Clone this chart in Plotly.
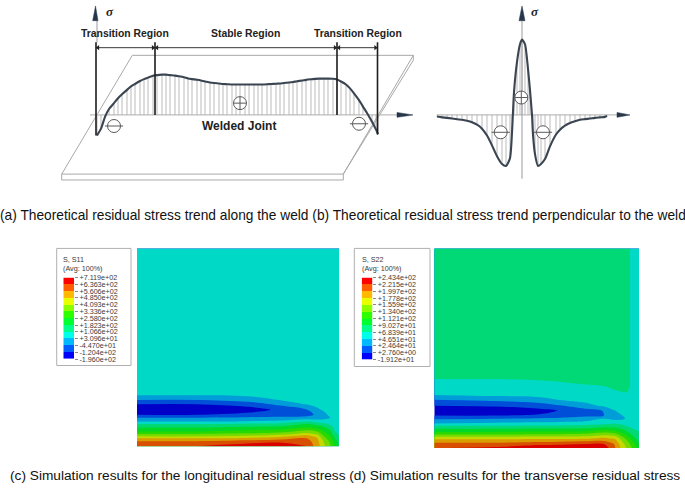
import numpy as np
import plotly.graph_objects as go

W, H = 685, 488
BASE_Y = 113  # pixel row of the zero-stress line in the sketches

# ---- sketch (a): stress along the weld
weld_x = [97, 101, 105, 109, 114, 118, 122, 127, 131, 135, 140, 144, 148, 153, 157, 162, 166, 170, 175, 179,
          184, 188, 192, 197, 201, 205, 210, 214, 219, 223, 227, 232, 236, 240, 245, 249, 254, 258, 262, 267,
          271, 276, 280, 284, 289, 293, 297, 302, 306, 311, 315, 319, 324, 328, 333, 337, 341, 346, 350, 354,
          359, 363, 367, 372, 376, 378]
weld_stress = [-21, -14, -2, 6, 12, 17, 21, 25.5, 29, 31.5, 34.5, 36.5, 38, 39.8, 40.5, 41, 41, 40.5, 40, 39.3,
               38.3, 37.2, 36.5, 35.8, 35, 34, 33, 32.5, 32, 31.5, 31.3, 31, 31, 31, 31, 31, 31, 31, 31, 31.2,
               31.5, 31.8, 32, 32.5, 33, 33.5, 34.3, 35, 35.7, 36.3, 36.7, 37, 37, 37, 36.8, 36, 34, 31, 27, 22,
               15, 8.5, 2, -7, -15, -19.5]

# ---- sketch (b): stress across the weld
cross_x = [437, 442, 447, 452, 457, 462, 467, 472, 477, 482, 487, 492, 497, 502, 506, 510, 512, 514, 517, 520,
           522, 525, 528, 530, 532, 533, 535, 538, 541, 545, 550, 556, 560, 565, 570, 575, 580, 585, 590, 595,
           600, 605, 607]
cross_stress = [-1.7, -2.5, -3, -3.7, -4.5, -5, -6, -7.5, -10, -14, -21, -31, -42, -50, -52, -44, -18, 23, 54, 72,
                76.7, 72, 47, 25, 0, -20, -40, -52, -50, -45, -32, -20, -15, -11, -8.3, -6.5, -5, -4.3, -3.7, -3,
                -2.5, -2, -1]

plate_top_x = [132.3, 413.3, 343.3, 61.7, 132.3]
plate_top_s = [60.7, 60.7, -60.3, -60.3, 60.7]
plate_edge_x = [61.7, 61.7, 343.3, 343.3, 413.3, 413.3]
plate_edge_s = [-60.3, -66.3, -66.3, -60.3, 55.7, 60.7]

black_x = [96, 155, 337, 377.5]
black_lo = [-21, 0, 0, -20]
BLACK_TOP = 74

section_edges = [96, 155, 337, 377.5]
section_names = ["Transition Region", "Stable Region", "Transition Region"]
section_centers = [125, 245, 358]

plus_x = [240, 521.3]
plus_s = [12, 17.7]
minus_x = [114, 359, 500.7, 543]
minus_s = [-11.3, -9, -17.7, -17.7]

# ---- legends
s11_levels = [-196.0, -120.4, -44.7, 30.96, 106.6, 182.3, 258.0, 333.6, 409.3, 485.0, 560.6, 636.3, 711.9]
s11_labels = ["-1.960e+02", "-1.204e+02", "-4.470e+01", "+3.096e+01", "+1.066e+02", "+1.823e+02", "+2.580e+02",
              "+3.336e+02", "+4.093e+02", "+4.850e+02", "+5.606e+02", "+6.363e+02", "+7.119e+02"]
s22_levels = [-19.12, 2.76, 24.64, 46.51, 68.39, 90.27, 112.1, 134.0, 155.9, 177.8, 199.7, 221.5, 243.4]
s22_labels = ["-1.912e+01", "+2.760e+00", "+2.464e+01", "+4.651e+01", "+6.839e+01", "+9.027e+01", "+1.121e+02",
              "+1.340e+02", "+1.559e+02", "+1.778e+02", "+1.997e+02", "+2.215e+02", "+2.434e+02"]

legend_colors = ["#0000ff", "#005dff", "#00b9ff", "#00ffe8", "#00ff8b", "#00ff2e",
                 "#2eff00", "#8bff00", "#e8ff00", "#ffb900", "#ff5d00", "#ff0000"]
field_colors = ["#0000c8", "#004fd9", "#009dd9", "#00d9c5", "#00d976", "#00d927",
                "#27d900", "#76d900", "#c5d900", "#d99d00", "#d94f00", "#d90000"]

# ---- S11 field, read as position on the 0-12 legend scale, one list per column
s11_x = [0, 60, 110, 143, 170, 180, 187, 193, 198, 202]
s11_y = [0, 145, 149, 154, 158, 164, 169, 172, 176, 178.5, 182, 186, 188.5, 191, 193, 196, 201]
s11_cols = [
    [3.5, 3.5, 3.05, 2.0, 1.05, 0.4, 1.0, 2.0, 3.0, 4.0, 5.0, 6.0, 7.0, 8.0, 9.0, 10.0, 10.9],
    [3.5, 3.5, 3.05, 2.0, 1.05, 0.4, 1.0, 2.0, 3.0, 4.0, 5.0, 6.0, 7.0, 8.0, 9.0, 10.0, 11.0],
    [3.5, 3.5, 3.2, 2.4, 1.5, 0.5, 1.35, 2.1, 3.1, 4.15, 5.25, 6.35, 7.2, 8.25, 9.2, 10.35, 11.8],
    [3.5, 3.5, 3.4, 3.05, 2.3, 1.2, 1.6, 2.2, 3.3, 4.4, 5.3, 6.6, 7.6, 8.75, 9.6, 10.7, 11.8],
    [3.5, 3.5, 3.5, 3.4, 3.15, 1.95, 1.6, 2.4, 4.0, 5.05, 6.0, 7.4, 8.4, 9.4, 10.05, 10.4, 11.0],
    [3.5, 3.5, 3.5, 3.5, 3.4, 2.75, 2.2, 2.4, 3.6, 4.7, 5.6, 7.0, 7.85, 8.7, 9.1, 9.4, 9.5],
    [3.5, 3.5, 3.5, 3.5, 3.5, 3.2, 2.6, 2.7, 3.5, 4.2, 5.2, 6.0, 6.5, 7.0, 7.35, 7.85, 8.2],
    [3.5, 3.5, 3.5, 3.5, 3.5, 3.5, 3.3, 3.0, 3.3, 3.8, 4.5, 5.3, 5.7, 6.1, 6.4, 6.8, 7.2],
    [3.5, 3.5, 3.5, 3.5, 3.5, 3.5, 3.5, 3.5, 3.5, 3.6, 3.8, 4.0, 4.3, 4.7, 5.0, 5.5, 6.0],
    [3.5, 3.5, 3.5, 3.5, 3.5, 3.5, 3.5, 3.5, 3.5, 3.55, 3.6, 3.7, 3.9, 4.1, 4.3, 4.6, 5.0],
]

# ---- S22 field, same reading
s22_x = [0, 60, 105, 126, 150, 169, 180, 188, 192, 198, 204]
s22_y = [0, 130, 135, 140, 146, 149, 154, 160, 165, 170, 173, 178, 181, 186, 190, 193, 196, 199, 203]
s22_cols = [
    [4.5, 4.2, 3.85, 3.6, 3.2, 3.03, 2.0, 1.0, 0.4, 1.0, 1.8, 3.0, 4.2, 5.75, 7.25, 8.6, 9.6, 10.3, 10.95],
    [4.5, 4.2, 3.85, 3.6, 3.5, 3.25, 2.25, 1.1, 0.5, 1.0, 1.9, 3.2, 4.2, 5.75, 7.25, 8.6, 9.6, 10.3, 11.2],
    [4.5, 4.3, 3.95, 3.7, 3.5, 3.3, 2.65, 1.45, 0.7, 1.1, 2.1, 3.25, 4.3, 5.9, 7.4, 8.7, 9.7, 10.7, 11.8],
    [4.5, 4.4, 4.05, 3.75, 3.55, 3.4, 3.05, 1.95, 1.05, 1.4, 2.2, 3.3, 4.3, 5.9, 7.4, 8.7, 9.8, 10.8, 11.9],
    [4.5, 4.5, 4.2, 3.9, 3.6, 3.5, 3.35, 2.6, 1.6, 1.85, 2.3, 3.5, 4.4, 6.0, 7.5, 8.8, 9.9, 11.0, 11.9],
    [4.5, 4.5, 4.4, 4.0, 3.65, 3.5, 3.5, 3.2, 2.05, 2.0, 2.95, 3.7, 4.7, 6.5, 8.0, 9.1, 10.0, 11.0, 11.7],
    [4.5, 4.5, 4.5, 4.3, 3.85, 3.65, 3.5, 3.5, 3.0, 2.45, 2.6, 3.9, 4.6, 6.2, 7.7, 8.8, 9.4, 9.9, 10.1],
    [4.5, 4.5, 4.5, 4.4, 4.0, 3.7, 3.5, 3.5, 3.4, 3.05, 2.8, 3.7, 4.3, 5.5, 6.5, 7.3, 7.8, 8.2, 8.5],
    [4.5, 4.5, 4.5, 4.45, 4.05, 3.7, 3.5, 3.5, 3.5, 3.4, 3.2, 3.5, 4.0, 5.0, 5.9, 6.6, 7.1, 7.6, 7.9],
    [3.5, 3.5, 3.5, 3.5, 3.5, 3.5, 3.5, 3.5, 3.5, 3.5, 3.5, 3.5, 3.7, 4.3, 4.9, 5.4, 5.9, 6.4, 6.8],
    [3.5, 3.5, 3.5, 3.5, 3.5, 3.5, 3.5, 3.5, 3.5, 3.5, 3.5, 3.55, 3.8, 4.0, 4.3, 4.5, 4.8, 5.1, 5.4],
]

SANS = "Liberation Sans"
CURVE = "#3b4552"
GREY = "#b4b4b4"
ARROW = "#26374a"


def dom_x(a, b):
    return [a / W, b / W]


def dom_y(a, b):
    return [1 - b / H, 1 - a / H]


def stepped(colors):
    return [[i / (len(colors) - 1), c] for i, c in enumerate(colors)]


def line(fig, x, y, color=GREY, width=1):
    fig.add_trace(go.Scatter(x=x, y=y, mode="lines", line=dict(color=color, width=width),
                             xaxis="x", yaxis="y", hoverinfo="skip", showlegend=False))


def head(fig, x, y):
    fig.add_trace(go.Scatter(x=x, y=y, mode="lines", fill="toself", fillcolor=ARROW, line=dict(color=ARROW, width=0.5),
                             xaxis="x", yaxis="y", hoverinfo="skip", showlegend=False))


def curve(fig, x, s):
    # hatching runs from the curve back to the zero line
    up = [max(-v, 0) for v in s]
    down = [max(v, 0) for v in s]
    fig.add_trace(go.Scatter(x=x, y=s, mode="lines", line=dict(width=0), xaxis="x", yaxis="y",
                             error_y=dict(type="data", symmetric=False, array=up, arrayminus=down,
                                          color="#a9a9a9", thickness=0.8, width=0),
                             hoverinfo="skip", showlegend=False))
    fig.add_trace(go.Scatter(x=x, y=s, mode="lines", line=dict(color=CURVE, width=2.1, shape="spline", smoothing=0.6),
                             xaxis="x", yaxis="y", hoverinfo="skip", showlegend=False))


def field(fig, n, xs, ys, cols, levels):
    z = np.interp(np.array(cols).T, range(13), levels)
    size = (levels[12] - levels[0]) / 12
    fig.add_trace(go.Contour(x=xs, y=ys, z=z, colorscale=stepped(field_colors), showscale=False,
                             contours=dict(start=levels[1], end=levels[11] + 0.4 * size, size=size, coloring="fill"),
                             line=dict(width=0, smoothing=0.9), xaxis=f"x{n}", yaxis=f"y{n}", hoverinfo="skip"))


def legend_strip(fig, n, levels):
    fig.add_trace(go.Heatmap(x=[0, 1], y=levels, z=[[i] for i in range(12)], zmin=0, zmax=11,
                             colorscale=stepped(legend_colors), showscale=False,
                             xaxis=f"x{n}", yaxis=f"y{n}", hoverinfo="skip"))


fig = go.Figure()

# plate and zero lines of the sketches
line(fig, plate_top_x, plate_top_s, "#a8a8a8", 1)
line(fig, plate_edge_x, plate_edge_s, "#a8a8a8", 1)
line(fig, [90, 400], [0, 0], "#bdbdbd", 1.2)
line(fig, [97, 97], [74, 96], "#9a9a9a", 1)
line(fig, [437, 620], [0, 0], "#bdbdbd", 1.2)
line(fig, [522, 522], [-65, 96], "#9a9a9a", 1)

curve(fig, weld_x, weld_stress)
curve(fig, cross_x, cross_stress)

for bx, lo in zip(black_x, black_lo):
    line(fig, [bx, bx], [lo, BLACK_TOP], "#1c1c1c", 1.6)

# dimension arrows between the black lines
for a, b in zip(section_edges[:-1], section_edges[1:]):
    fig.add_trace(go.Scatter(x=[a + 2, b - 2], y=[68.5, 68.5], mode="lines+markers",
                             line=dict(color="#222", width=0.9),
                             marker=dict(symbol=["triangle-left", "triangle-right"], size=4.5, color="#222"),
                             xaxis="x", yaxis="y", hoverinfo="skip", showlegend=False))

# arrow heads
head(fig, [92.7, 98, 95.5, 92.7], [96, 96, 111, 96])
head(fig, [397, 413, 397, 397], [2.5, 0, -2.5, 2.5])
head(fig, [519, 525, 522, 519], [96, 96, 111, 96])
head(fig, [617, 630, 617, 617], [2.5, 0, -2.5, 2.5])

fig.add_trace(go.Scatter(x=plus_x, y=plus_s, mode="markers",
                         marker=dict(symbol="circle-cross", size=13, color="white", line=dict(color="#5a5a5a", width=1)),
                         xaxis="x", yaxis="y", hoverinfo="skip", showlegend=False))
fig.add_trace(go.Scatter(x=minus_x, y=minus_s, mode="markers",
                         marker=dict(symbol="circle", size=13, color="white", line=dict(color="#5a5a5a", width=1)),
                         xaxis="x", yaxis="y", hoverinfo="skip", showlegend=False))
fig.add_trace(go.Scatter(x=minus_x, y=minus_s, mode="markers",
                         marker=dict(symbol="line-ew", size=13, line=dict(color="#5a5a5a", width=1)),
                         xaxis="x", yaxis="y", hoverinfo="skip", showlegend=False))

field(fig, 2, s11_x, s11_y, s11_cols, s11_levels)
field(fig, 3, s22_x, s22_y, s22_cols, s22_levels)
legend_strip(fig, 4, s11_levels)
legend_strip(fig, 5, s22_levels)

hidden = dict(visible=False, fixedrange=True)


def legend_axis(domain, levels, labels):
    return dict(domain=domain, range=[levels[0], levels[12]], side="right", anchor="x4" if levels is s11_levels else "x5",
                tickvals=levels, ticktext=labels, ticks="outside", ticklen=3, tickwidth=0.6, tickcolor="#8a8a8a",
                tickfont=dict(family=SANS, size=7.2, color="#3a3a3a"), showgrid=False, zeroline=False, showline=False)


fig.update_layout(
    width=W, height=H, margin=dict(l=0, r=0, t=0, b=0), paper_bgcolor="white", plot_bgcolor="rgba(0,0,0,0)",
    showlegend=False,
    xaxis=dict(domain=[0, 1], range=[0, W], **hidden),
    yaxis=dict(domain=[0, 1], range=[BASE_Y - H, BASE_Y], **hidden),
    xaxis2=dict(domain=dom_x(137, 339), range=[0, 202], anchor="y2", **hidden),
    yaxis2=dict(domain=dom_y(249, 450.5), range=[201, 0], anchor="x2", **hidden),
    xaxis3=dict(domain=dom_x(434.3, 639), range=[0, 204], anchor="y3", **hidden),
    yaxis3=dict(domain=dom_y(249, 452.3), range=[203, 0], anchor="x3", **hidden),
    xaxis4=dict(domain=dom_x(63.3, 74), range=[0, 1], anchor="y4", **hidden),
    yaxis4=legend_axis(dom_y(278.7, 361.7), s11_levels, s11_labels),
    xaxis5=dict(domain=dom_x(361.7, 372.3), range=[0, 1], anchor="y5", **hidden),
    yaxis5=legend_axis(dom_y(278.7, 362.3), s22_levels, s22_labels),
)

# legend frames
for x0, x1, y1 in [(56.7, 131, 368.3), (354.3, 430, 369.3)]:
    fig.add_shape(type="rect", xref="paper", yref="paper", x0=x0 / W, x1=x1 / W, y0=1 - 249 / H, y1=1 - y1 / H,
                  line=dict(color="#b0b0b0", width=1), fillcolor="rgba(0,0,0,0)")


def note(text, x, y, size, anchor="left", color="#222222", family=SANS, ref="paper"):
    if ref == "paper":
        x, y = x / W, 1 - y / H
    fig.add_annotation(text=text, x=x, y=y, xref=ref, yref=ref if ref == "paper" else "y", xanchor=anchor,
                       yanchor="middle", showarrow=False, font=dict(family=family, size=size, color=color),
                       borderpad=0, borderwidth=0)


for name, cx in zip(section_names, section_centers):
    note(f"<b>{name}</b>", cx, 113 - 30, 10.4, "center", ref="x")
note("<b>Welded Joint</b>", 239, 113 - 124.5, 12, "center", ref="x")
note("<b><i>σ</i></b>", 110, 113 - 8, 13, "center", family="Liberation Serif", ref="x")
note("<b><i>σ</i></b>", 535, 113 - 8, 13, "center", family="Liberation Serif", ref="x")

note("(a) Theoretical residual stress trend along the weld (b) Theoretical residual stress trend perpendicular to the weld",
     0, 215, 13.75, color="#111111")
note("(c) Simulation results for the longitudinal residual stress (d) Simulation results for the transverse residual stress",
     10, 480.5, 13.7, color="#111111")

note("S, S11", 63.3, 260.7, 7.2, color="#3a3a3a")
note("(Avg: 100%)", 63.3, 269.2, 7.2, color="#3a3a3a")
note("S, S22", 361.7, 260.7, 7.2, color="#3a3a3a")
note("(Avg: 100%)", 361.7, 269.2, 7.2, color="#3a3a3a")

# page margin would push the figure off the window
fig.write_html("out.html", post_script="document.body.style.margin='0';", config=dict(displayModeBar=False))
